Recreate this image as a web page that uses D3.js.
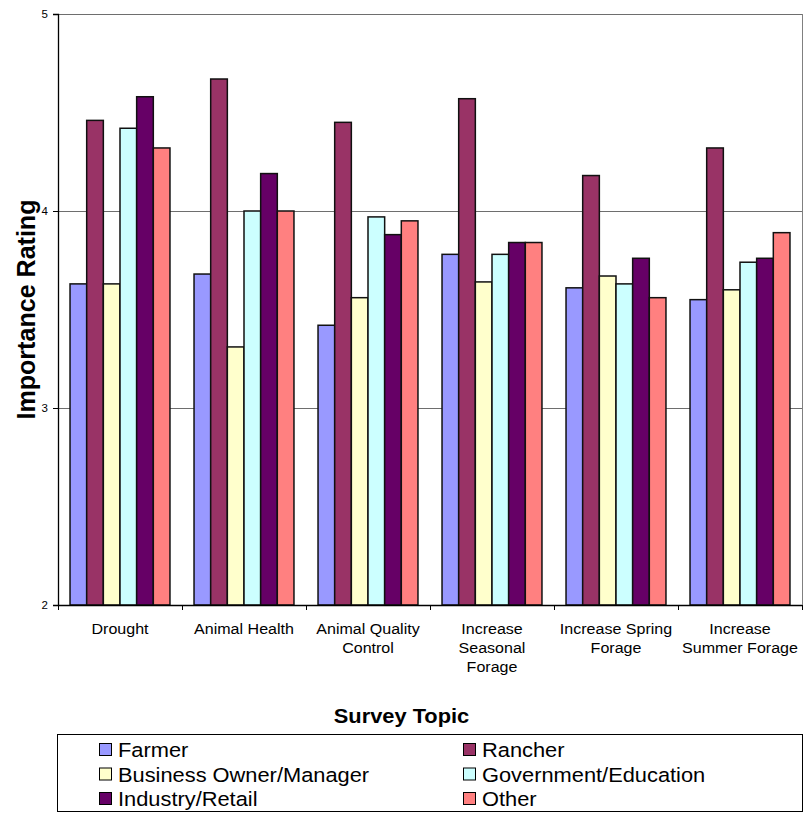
<!DOCTYPE html>
<html>
<head>
<meta charset="utf-8">
<script src="https://cdn.jsdelivr.net/npm/d3@7"></script>
<style>
  html, body { margin: 0; padding: 0; background: #fff; }
  svg { display: block; font-family: Arial, "Liberation Sans", sans-serif; }
</style>
</head>
<body>
<svg id="chart" width="804" height="813"></svg>
<script>
// Survey topics (label lines for wrapping)
const categories = ["Drought", "Animal Health", "Animal Quality Control", "Increase Seasonal Forage", "Increase Spring Forage", "Increase Summer Forage"];
const categoryLines = [
  ["Drought"],
  ["Animal Health"],
  ["Animal Quality", "Control"],
  ["Increase", "Seasonal", "Forage"],
  ["Increase Spring", "Forage"],
  ["Increase", "Summer Forage"]
];

// Respondent groups
const series = ["Farmer", "Rancher", "Business Owner/Manager", "Government/Education", "Industry/Retail", "Other"];
const colors = ["#9999FF", "#993366", "#FFFFCC", "#CCFFFF", "#660066", "#FF8080"];

// Mean importance rating per group, one entry per topic
const farmer   = [3.63, 3.68, 3.42, 3.78, 3.61, 3.55];
const rancher  = [4.46, 4.67, 4.45, 4.57, 4.18, 4.32];
const business = [3.63, 3.31, 3.56, 3.64, 3.67, 3.60];
const govEdu   = [4.42, 4.00, 3.97, 3.78, 3.63, 3.74];
const industry = [4.58, 4.19, 3.88, 3.84, 3.76, 3.76];
const other    = [4.32, 4.00, 3.95, 3.84, 3.56, 3.89];
const values = [farmer, rancher, business, govEdu, industry, other];

const yTicks = [2, 3, 4, 5];

const svg = d3.select("#chart");
const plot = { left: 58, right: 802, top: 14, bottom: 605 };

const x0 = d3.scaleBand().domain(categories).range([plot.left, plot.right]).padding(0);
const bw = x0.bandwidth();
const x1 = d3.scaleBand().domain(series).range([bw * 0.097, bw * 0.903]).padding(0);
const y = d3.scaleLinear().domain([2, 5]).range([plot.bottom, plot.top]);

// Plot area frame (right edge) and gridlines
svg.append("line")
  .attr("x1", plot.right + 0.5).attr("x2", plot.right + 0.5)
  .attr("y1", plot.top).attr("y2", plot.bottom)
  .attr("stroke", "#808080").attr("stroke-width", 1);

svg.append("g")
  .selectAll("line")
  .data(yTicks.filter(d => d > 2))
  .join("line")
  .attr("x1", plot.left).attr("x2", plot.right)
  .attr("y1", d => Math.round(y(d)) + 0.5).attr("y2", d => Math.round(y(d)) + 0.5)
  .attr("stroke", "#6e6e6e").attr("stroke-width", 1);

// Bars
const groups = svg.append("g")
  .selectAll("g")
  .data(categories)
  .join("g")
  .attr("transform", d => `translate(${x0(d)},0)`);

groups.selectAll("rect")
  .data((c, i) => series.map((s, j) => ({ s, j, v: values[j][i] })))
  .join("rect")
  .attr("x", d => x1(d.s))
  .attr("width", x1.bandwidth())
  .attr("y", d => y(d.v))
  .attr("height", d => y(2) - y(d.v))
  .attr("fill", d => colors[d.j])
  .attr("stroke", "#111")
  .attr("stroke-width", 1.5);

// Y axis
const yAxis = d3.axisLeft(y).tickValues(yTicks).tickSize(5).tickPadding(5).tickFormat(d3.format("d"));
const gy = svg.append("g").attr("transform", `translate(${plot.left},0)`).call(yAxis);
gy.select(".domain").attr("stroke", "#000").attr("stroke-width", 1.3);
gy.selectAll(".tick line").attr("stroke", "#000");
gy.selectAll(".tick text").attr("font-size", 11.5).attr("fill", "#000")
  .attr("font-family", "Arial, 'Liberation Sans', sans-serif");

// X axis: baseline plus ticks at category boundaries
svg.append("line")
  .attr("x1", plot.left).attr("x2", plot.right)
  .attr("y1", plot.bottom + 0.5).attr("y2", plot.bottom + 0.5)
  .attr("stroke", "#000").attr("stroke-width", 1.3);

const boundaries = categories.map(c => x0(c)).concat([x0(categories[categories.length - 1]) + bw]);
svg.append("g")
  .selectAll("line")
  .data(boundaries)
  .join("line")
  .attr("x1", d => Math.round(d) + 0.5).attr("x2", d => Math.round(d) + 0.5)
  .attr("y1", plot.bottom).attr("y2", plot.bottom + 5)
  .attr("stroke", "#000");

// Category labels
const labels = svg.append("g")
  .selectAll("text")
  .data(categories)
  .join("text")
  .attr("text-anchor", "middle")
  .attr("font-size", 15)
  .attr("fill", "#000")
  .attr("transform", d => `translate(${x0(d) + bw / 2},634) scale(1.07,1)`);
labels.each(function(d, i) {
  d3.select(this).selectAll("tspan")
    .data(categoryLines[i])
    .join("tspan")
    .attr("x", 0)
    .attr("y", (t, k) => k * 19)
    .text(t => t);
});

// Axis titles
svg.append("text")
  .attr("transform", `translate(35,${(plot.top + plot.bottom) / 2}) rotate(-90)`)
  .attr("text-anchor", "middle")
  .attr("font-size", 25)
  .attr("font-weight", "bold")
  .attr("textLength", 220)
  .attr("lengthAdjust", "spacingAndGlyphs")
  .text("Importance Rating");

svg.append("text")
  .attr("transform", "translate(401.5,722.7) scale(1.04,1)")
  .attr("text-anchor", "middle")
  .attr("font-size", 21)
  .attr("font-weight", "bold")
  .text("Survey Topic");

// Legend
const legend = svg.append("g");
legend.append("rect")
  .attr("x", 57.5).attr("y", 734.5)
  .attr("width", 745).attr("height", 77)
  .attr("fill", "#fff").attr("stroke", "#000").attr("stroke-width", 1);

const legendCols = [99, 463];
const legendRows = [750, 774.5, 799];
const items = legend.selectAll("g.item")
  .data(series)
  .join("g")
  .attr("class", "item")
  .attr("transform", (d, i) => `translate(${legendCols[i % 2]},${legendRows[Math.floor(i / 2)]})`);
items.append("rect")
  .attr("x", 0.5).attr("y", -6.5)
  .attr("width", 12).attr("height", 12)
  .attr("fill", (d, i) => colors[i])
  .attr("stroke", "#000").attr("stroke-width", 1);
items.append("text")
  .attr("transform", "translate(19,7) scale(1.12,1)")
  .attr("font-size", 19.5)
  .text(d => d);
</script>
</body>
</html>
